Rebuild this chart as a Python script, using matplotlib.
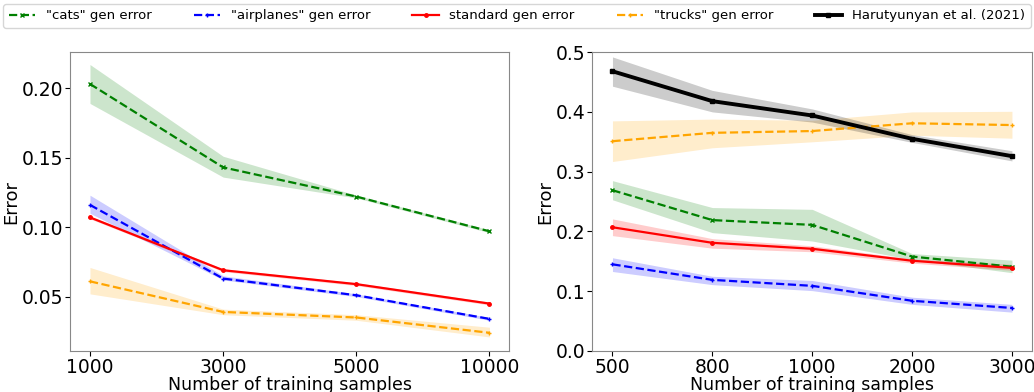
import matplotlib
matplotlib.use("Agg")
import matplotlib.pyplot as plt
import numpy as np

# left panel
left_x = ["1000", "3000", "5000", "10000"]
left_cats = [0.203, 0.143, 0.122, 0.097]
left_cats_lo = [0.189, 0.136, 0.121, 0.096]
left_cats_hi = [0.217, 0.151, 0.123, 0.098]
left_air = [0.116, 0.063, 0.051, 0.034]
left_air_lo = [0.110, 0.062, 0.050, 0.033]
left_air_hi = [0.123, 0.065, 0.052, 0.035]
left_std = [0.107, 0.069, 0.059, 0.045]
left_std_lo = [0.106, 0.068, 0.058, 0.044]
left_std_hi = [0.108, 0.070, 0.060, 0.046]
left_trk = [0.061, 0.039, 0.035, 0.024]
left_trk_lo = [0.052, 0.037, 0.033, 0.021]
left_trk_hi = [0.071, 0.041, 0.037, 0.028]

# right panel
right_x = ["500", "800", "1000", "2000", "3000"]
right_cats = [0.269, 0.219, 0.211, 0.158, 0.141]
right_cats_lo = [0.253, 0.198, 0.184, 0.153, 0.131]
right_cats_hi = [0.285, 0.240, 0.237, 0.163, 0.152]
right_air = [0.145, 0.119, 0.109, 0.084, 0.072]
right_air_lo = [0.133, 0.111, 0.101, 0.078, 0.065]
right_air_hi = [0.156, 0.125, 0.118, 0.090, 0.078]
right_std = [0.207, 0.181, 0.171, 0.151, 0.139]
right_std_lo = [0.193, 0.172, 0.166, 0.147, 0.135]
right_std_hi = [0.221, 0.188, 0.176, 0.154, 0.145]
right_trk = [0.351, 0.365, 0.368, 0.381, 0.378]
right_trk_lo = [0.317, 0.340, 0.350, 0.361, 0.356]
right_trk_hi = [0.385, 0.388, 0.386, 0.400, 0.401]
right_har = [0.468, 0.418, 0.394, 0.355, 0.326]
right_har_lo = [0.443, 0.400, 0.383, 0.349, 0.318]
right_har_hi = [0.492, 0.436, 0.405, 0.362, 0.335]

fig, (ax1, ax2) = plt.subplots(1, 2, figsize=(10.34, 3.92), dpi=100)


def series(ax, y, lo, hi, color, ls, marker, label, lw=1.6, ms=3.5):
    x = np.arange(len(y))
    ax.fill_between(x, lo, hi, color=color, alpha=0.2, linewidth=0)
    return ax.plot(x, y, color=color, linestyle=ls, marker=marker, lw=lw,
                   ms=ms, label=label)[0]


h1 = series(ax1, left_cats, left_cats_lo, left_cats_hi, "green", "--", "x", '"cats" gen error')
h2 = series(ax1, left_air, left_air_lo, left_air_hi, "blue", "--", "+", '"airplanes" gen error')
h3 = series(ax1, left_std, left_std_lo, left_std_hi, "red", "-", "o", "standard gen error", ms=2.5)
h4 = series(ax1, left_trk, left_trk_lo, left_trk_hi, "orange", "--", "+", '"trucks" gen error')

series(ax2, right_cats, right_cats_lo, right_cats_hi, "green", "--", "x", None)
series(ax2, right_air, right_air_lo, right_air_hi, "blue", "--", "+", None)
series(ax2, right_std, right_std_lo, right_std_hi, "red", "-", "o", None, ms=2.5)
series(ax2, right_trk, right_trk_lo, right_trk_hi, "orange", "--", "+", None)
h5 = series(ax2, right_har, right_har_lo, right_har_hi, "black", "-", "s", "Harutyunyan et al. (2021)", lw=2.8, ms=3)

ax1.set_xticks(range(len(left_x)))
ax1.set_xticklabels(left_x)
ax1.set_ylim(0.0109, 0.2259)
ax1.set_yticks([0.05, 0.10, 0.15, 0.20])
ax2.set_xticks(range(len(right_x)))
ax2.set_xticklabels(right_x)
ax2.set_ylim(0.0, 0.5)

for ax in (ax1, ax2):
    ax.set_xlabel("Number of training samples", fontsize=12.5, labelpad=-1)
    ax.set_ylabel("Error", fontsize=13, labelpad=1)
    ax.tick_params(labelsize=13.5, pad=1.5)
    for s in ax.spines.values():
        s.set_color("#888888")

fig.legend(handles=[h1, h2, h3, h4, h5], loc="upper center", ncol=5,
           fontsize=9.5, bbox_to_anchor=(0.5, 1.0), frameon=True,
           handlelength=2, columnspacing=3.2, borderaxespad=0.3)
fig.subplots_adjust(left=0.0677, right=0.998, top=0.867, bottom=0.1046, wspace=0.189)
fig.savefig("out.png")
